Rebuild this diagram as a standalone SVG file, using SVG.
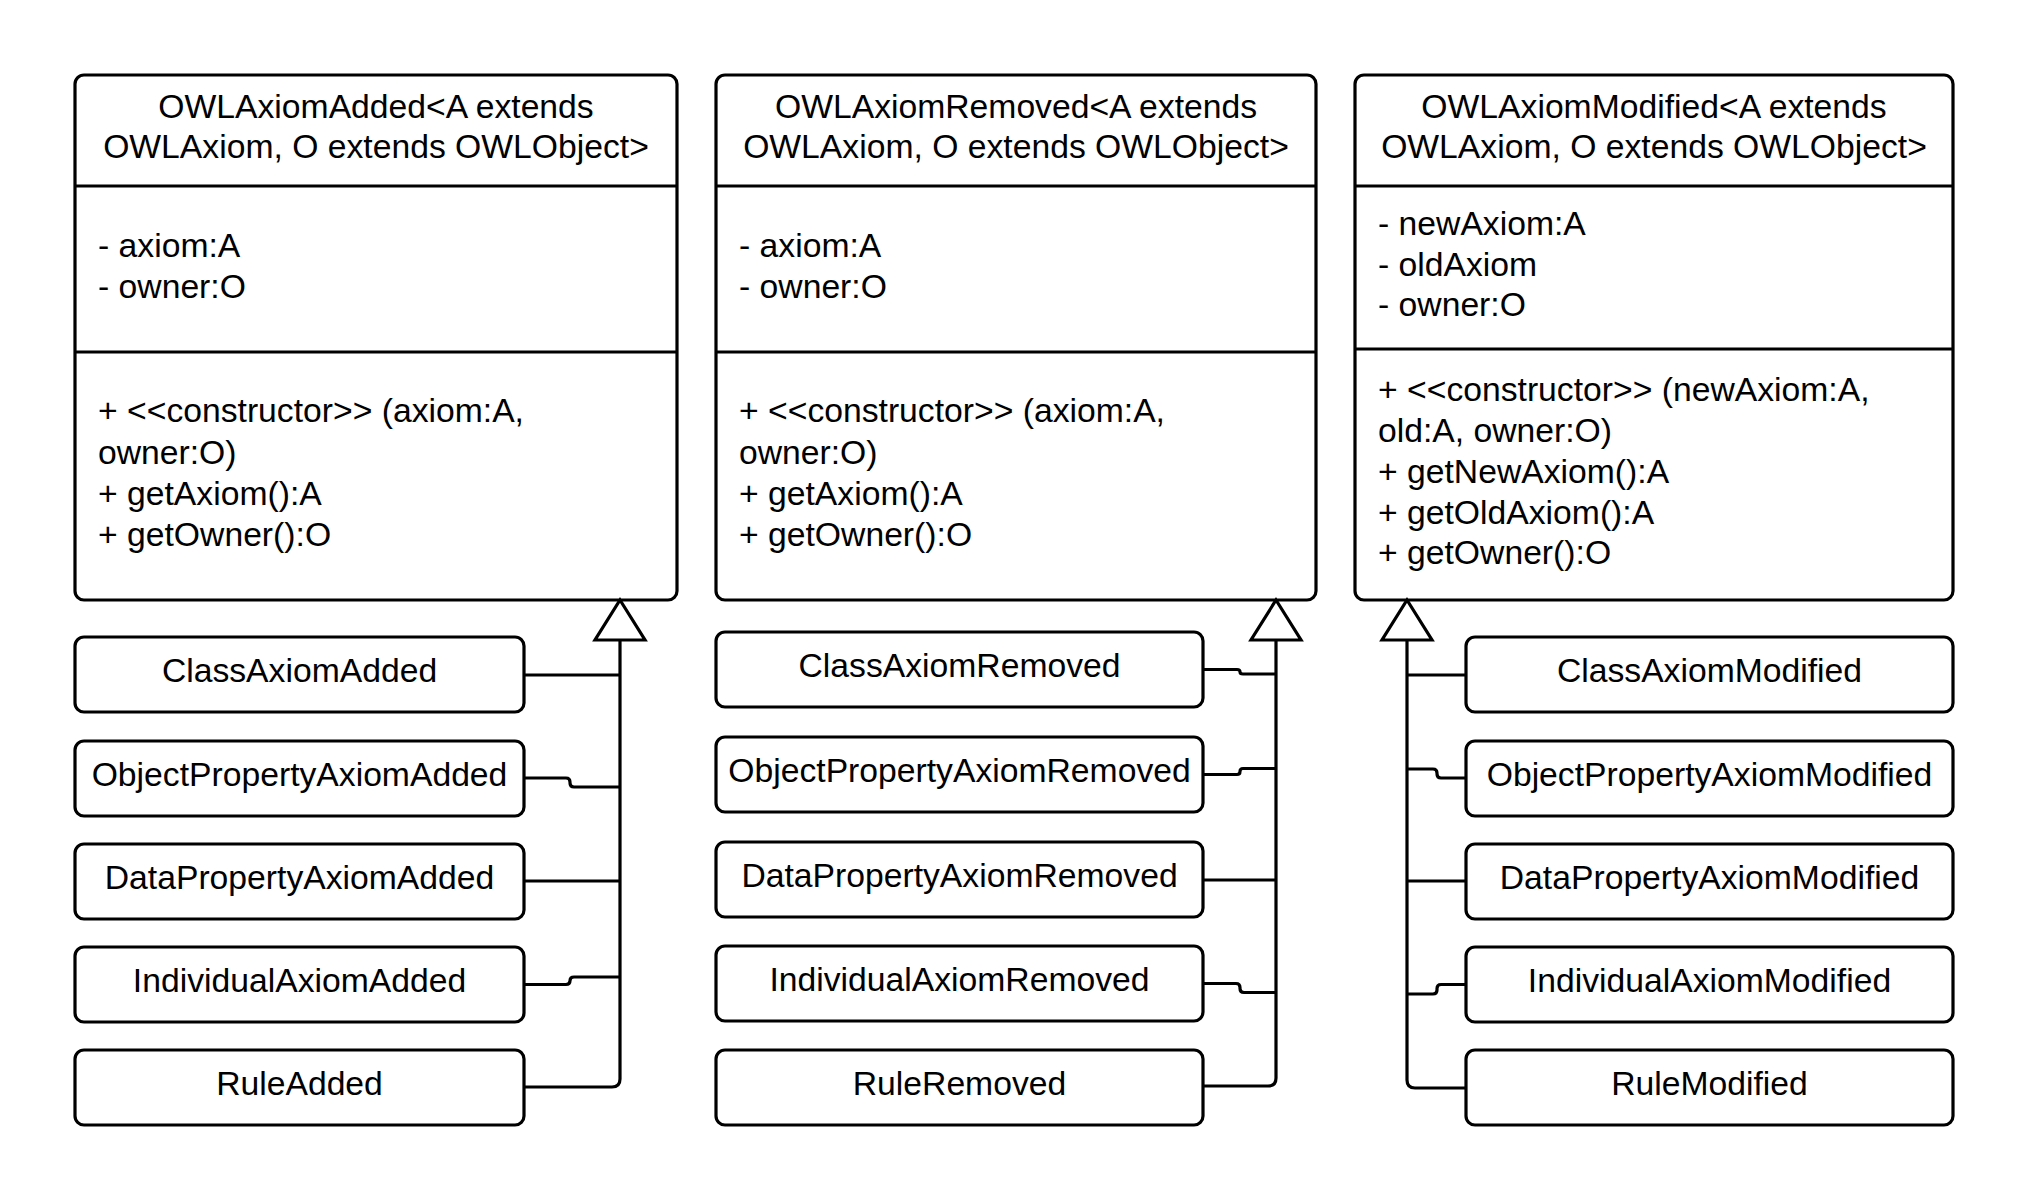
<svg xmlns="http://www.w3.org/2000/svg" width="2029" height="1200" viewBox="0 0 2029 1200">
<style>
.box{fill:#fff;stroke:#000;stroke-width:3.2}
.div{stroke:#000;stroke-width:3.2}
.con{fill:none;stroke:#000;stroke-width:3.2}
.tri{fill:#fff;stroke:#000;stroke-width:3.2;stroke-linejoin:miter}
text{font-family:"Liberation Sans",Arial,sans-serif;font-size:33.7px;fill:#000}
.c{text-anchor:middle}
</style>
<rect width="2029" height="1200" fill="#fff"/>

<g id="owl-axiom-added">
<rect class="box" x="75" y="75" width="602" height="525" rx="9"/>
<line class="div" x1="75" y1="186" x2="677" y2="186"/>
<line class="div" x1="75" y1="352" x2="677" y2="352"/>
<text class="c" x="376" y="118">OWLAxiomAdded&lt;A extends</text>
<text class="c" x="376" y="158">OWLAxiom, O extends OWLObject&gt;</text>
<text x="98" y="257">- axiom:A</text>
<text x="98" y="298">- owner:O</text>
<text x="98" y="422">+ &lt;&lt;constructor&gt;&gt; (axiom:A,</text>
<text x="98" y="464">owner:O)</text>
<text x="98" y="505">+ getAxiom():A</text>
<text x="98" y="546">+ getOwner():O</text>
</g>

<g id="owl-axiom-removed">
<rect class="box" x="716" y="75" width="600" height="525" rx="9"/>
<line class="div" x1="716" y1="186" x2="1316" y2="186"/>
<line class="div" x1="716" y1="352" x2="1316" y2="352"/>
<text class="c" x="1016" y="118">OWLAxiomRemoved&lt;A extends</text>
<text class="c" x="1016" y="158">OWLAxiom, O extends OWLObject&gt;</text>
<text x="739" y="257">- axiom:A</text>
<text x="739" y="298">- owner:O</text>
<text x="739" y="422">+ &lt;&lt;constructor&gt;&gt; (axiom:A,</text>
<text x="739" y="464">owner:O)</text>
<text x="739" y="505">+ getAxiom():A</text>
<text x="739" y="546">+ getOwner():O</text>
</g>

<g id="owl-axiom-modified">
<rect class="box" x="1355" y="75" width="598" height="525" rx="9"/>
<line class="div" x1="1355" y1="186" x2="1953" y2="186"/>
<line class="div" x1="1355" y1="349" x2="1953" y2="349"/>
<text class="c" x="1654" y="118">OWLAxiomModified&lt;A extends</text>
<text class="c" x="1654" y="158">OWLAxiom, O extends OWLObject&gt;</text>
<text x="1378" y="235">- newAxiom:A</text>
<text x="1378" y="276">- oldAxiom</text>
<text x="1378" y="316">- owner:O</text>
<text x="1378" y="401">+ &lt;&lt;constructor&gt;&gt; (newAxiom:A,</text>
<text x="1378" y="442">old:A, owner:O)</text>
<text x="1378" y="483">+ getNewAxiom():A</text>
<text x="1378" y="524">+ getOldAxiom():A</text>
<text x="1378" y="564">+ getOwner():O</text>
</g>

<g id="class-axiom-added"><rect class="box" x="75" y="637" width="449" height="75" rx="9"/><text class="c" x="299.5" y="682">ClassAxiomAdded</text></g>
<g id="object-property-axiom-added"><rect class="box" x="75" y="741" width="449" height="75" rx="9"/><text class="c" x="299.5" y="786">ObjectPropertyAxiomAdded</text></g>
<g id="data-property-axiom-added"><rect class="box" x="75" y="844" width="449" height="75" rx="9"/><text class="c" x="299.5" y="889">DataPropertyAxiomAdded</text></g>
<g id="individual-axiom-added"><rect class="box" x="75" y="947" width="449" height="75" rx="9"/><text class="c" x="299.5" y="992">IndividualAxiomAdded</text></g>
<g id="rule-added"><rect class="box" x="75" y="1050" width="449" height="75" rx="9"/><text class="c" x="299.5" y="1095">RuleAdded</text></g>

<g id="class-axiom-removed"><rect class="box" x="716" y="632" width="487" height="75" rx="9"/><text class="c" x="959.5" y="677">ClassAxiomRemoved</text></g>
<g id="object-property-axiom-removed"><rect class="box" x="716" y="737" width="487" height="75" rx="9"/><text class="c" x="959.5" y="782">ObjectPropertyAxiomRemoved</text></g>
<g id="data-property-axiom-removed"><rect class="box" x="716" y="842" width="487" height="75" rx="9"/><text class="c" x="959.5" y="887">DataPropertyAxiomRemoved</text></g>
<g id="individual-axiom-removed"><rect class="box" x="716" y="946" width="487" height="75" rx="9"/><text class="c" x="959.5" y="991">IndividualAxiomRemoved</text></g>
<g id="rule-removed"><rect class="box" x="716" y="1050" width="487" height="75" rx="9"/><text class="c" x="959.5" y="1095">RuleRemoved</text></g>

<g id="class-axiom-modified"><rect class="box" x="1466" y="637" width="487" height="75" rx="9"/><text class="c" x="1709.5" y="682">ClassAxiomModified</text></g>
<g id="object-property-axiom-modified"><rect class="box" x="1466" y="741" width="487" height="75" rx="9"/><text class="c" x="1709.5" y="786">ObjectPropertyAxiomModified</text></g>
<g id="data-property-axiom-modified"><rect class="box" x="1466" y="844" width="487" height="75" rx="9"/><text class="c" x="1709.5" y="889">DataPropertyAxiomModified</text></g>
<g id="individual-axiom-modified"><rect class="box" x="1466" y="947" width="487" height="75" rx="9"/><text class="c" x="1709.5" y="992">IndividualAxiomModified</text></g>
<g id="rule-modified"><rect class="box" x="1466" y="1050" width="487" height="75" rx="9"/><text class="c" x="1709.5" y="1095">RuleModified</text></g>

<g id="connectors">
<!-- column 1 -->
<path class="con" d="M620 640 V1079 Q620 1087 612 1087 H524"/>
<path class="con" d="M524 675 H620"/>
<path class="con" d="M524 778 H566 Q570 778 570 782 V783 Q570 787 574 787 H620"/>
<path class="con" d="M524 881 H620"/>
<path class="con" d="M524 984.5 H566 Q570 984.5 570 980.75 Q570 977 574 977 H620"/>
<polygon class="tri" points="620,600 645,640 595,640"/>
<!-- column 2 -->
<path class="con" d="M1276 640 V1078 Q1276 1086 1268 1086 H1203"/>
<path class="con" d="M1203 669.5 H1237 Q1240 669.5 1240 671.75 Q1240 674 1243 674 H1276"/>
<path class="con" d="M1203 774.5 H1237 Q1240 774.5 1240 771.5 Q1240 768.5 1243 768.5 H1276"/>
<path class="con" d="M1203 880 H1276"/>
<path class="con" d="M1203 983.5 H1236 Q1240 983.5 1240 987.5 V988.5 Q1240 992.5 1244 992.5 H1276"/>
<polygon class="tri" points="1276,600 1301,640 1251,640"/>
<!-- column 3 -->
<path class="con" d="M1407 640 V1080 Q1407 1088 1415 1088 H1466"/>
<path class="con" d="M1407 675 H1466"/>
<path class="con" d="M1407 769 H1433 Q1437 769 1437 773 V774 Q1437 778 1441 778 H1466"/>
<path class="con" d="M1407 881 H1466"/>
<path class="con" d="M1407 994 H1433 Q1437 994 1437 990 V988.5 Q1437 984.5 1441 984.5 H1466"/>
<polygon class="tri" points="1407,600 1432,640 1382,640"/>
</g>
</svg>
